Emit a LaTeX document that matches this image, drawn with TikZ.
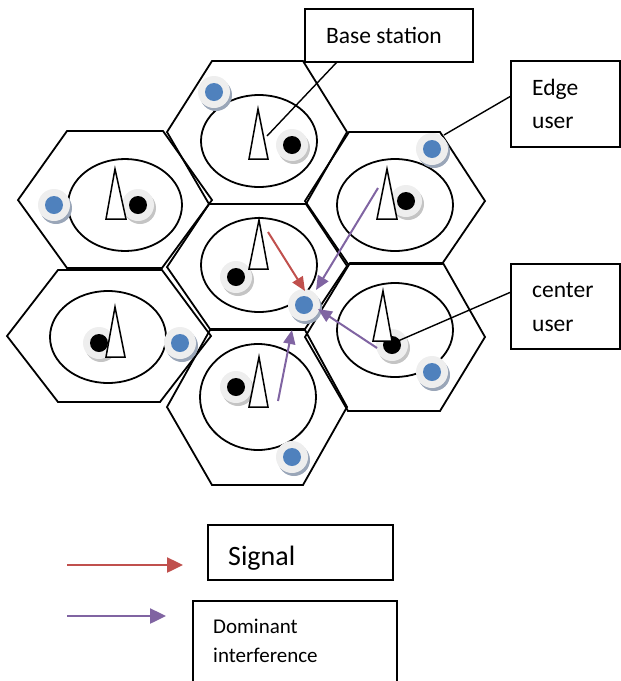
\documentclass[tikz,border=0pt]{standalone}
\usepackage{fontspec}
\setmainfont{Carlito}
\usetikzlibrary{arrows.meta,calc}
\definecolor{sigred}{HTML}{C0504D}
\definecolor{intpurple}{HTML}{8064A2}
\definecolor{userblue}{HTML}{4F81BD}
\definecolor{devbg}{HTML}{EEEEEE}
\definecolor{blueshadow}{HTML}{9AA6B8}
\definecolor{blackshadow}{HTML}{C4C4C4}
\newcommand\putdev[5]{%
  \fill[#5] (#2+2,#3+3) circle (16pt);
  \node[circle, fill=devbg, minimum size=32pt, inner sep=0pt] (#1) at (#2,#3) {};
  \fill[#4] (#1.center) circle (9pt);
}
\begin{document}
\begin{tikzpicture}[x=1pt,y=-1pt,
  hexline/.style={draw=black, line width=1.8pt, line join=miter},
  cellell/.style={draw=black, line width=1.8pt},
  tower/.style={draw=black, fill=white, line width=1.5pt},
  boxstyle/.style={draw=black, line width=1.6pt, fill=white, inner sep=0pt},
  leader/.style={draw=black, line width=1.4pt},
  sigarrow/.style={draw=sigred, line width=2pt, -{Triangle[length=14pt,width=12pt]}},
  intarrow/.style={draw=intpurple, line width=2pt, -{Triangle[length=14pt,width=12pt]}},
  legsig/.style={draw=sigred, line width=2.5pt, -{Triangle[length=16pt,width=15pt]}},
  legint/.style={draw=intpurple, line width=2.5pt, -{Triangle[length=16pt,width=15pt]}},
  lbl/.style={anchor=base west, inner sep=0pt, font=\fontsize{23.5}{28}\selectfont},
  biglbl/.style={anchor=base west, inner sep=0pt, font=\fontsize{28}{32}\selectfont},
  smalllbl/.style={anchor=base west, inner sep=0pt, font=\fontsize{21}{25}\selectfont},
]
\useasboundingbox (0,0) rectangle (621,681);
\clip (0,0) rectangle (621,681);

% hexagonal cells
\draw[hexline] (212,61)--(303,61)--(347,132)--(306,204)--(209,204)--(167,132)--cycle;
\draw[hexline] (67,131)--(163,131)--(212,200)--(162,268)--(67,268)--(18,200)--cycle;
\draw[hexline] (209,204)--(306,204)--(347,266)--(305,329)--(210,329)--(167,267)--cycle;
\draw[hexline] (349,132)--(440,132)--(485,201)--(442,264)--(348,264)--(305,201)--cycle;
\draw[hexline] (58,270)--(162,270)--(211,336)--(160,402)--(58,402)--(7,336)--cycle;
\draw[hexline] (350,263)--(443,263)--(485,337)--(440,411)--(348,411)--(305,337)--cycle;
\draw[hexline] (210,330)--(305,330)--(347,407)--(303,485)--(212,485)--(167,407)--cycle;

% inner (center) regions
\draw[cellell] (259,141) ellipse [x radius=58pt, y radius=46pt];
\draw[cellell] (125,205) ellipse [x radius=57pt, y radius=46pt];
\draw[cellell] (259,265) ellipse [x radius=58pt, y radius=47pt];
\draw[cellell] (395,205) ellipse [x radius=58pt, y radius=46pt];
\draw[cellell] (108,337) ellipse [x radius=58pt, y radius=46pt];
\draw[cellell] (395,330) ellipse [x radius=58pt, y radius=47pt];
\draw[cellell] (258,397) ellipse [x radius=58pt, y radius=53pt];

% users
\putdev{tb}{214}{92}{userblue}{blueshadow}
\putdev{tk}{292}{145}{black}{blackshadow}
\putdev{ulb}{54}{205}{userblue}{blueshadow}
\putdev{ulk}{138}{205}{black}{blackshadow}
\putdev{ck}{236}{277}{black}{blackshadow}
\putdev{cb}{304}{305}{userblue}{blueshadow}
\putdev{urb}{432}{149}{userblue}{blueshadow}
\putdev{urk}{406}{201}{black}{blackshadow}
\putdev{llk}{99}{343}{black}{blackshadow}
\putdev{llb}{180}{343}{userblue}{blueshadow}
\putdev{rk}{392}{345}{black}{blackshadow}
\putdev{rb}{432}{372}{userblue}{blueshadow}
\putdev{bk}{236}{387}{black}{blackshadow}
\putdev{bb}{292}{457}{userblue}{blueshadow}

% base stations
\draw[tower] (258,109)--(268,159)--(249,159)--cycle;
\draw[tower] (115,169)--(126,219)--(106,219)--cycle;
\draw[tower] (259,220)--(268,269)--(249,269)--cycle;
\draw[tower] (387,169)--(397,219)--(377,219)--cycle;
\draw[tower] (115,307)--(125,357)--(106,357)--cycle;
\draw[tower] (383,291)--(392,341)--(373,341)--cycle;
\draw[tower] (259,357)--(268,407)--(249,407)--cycle;

% signal and interference arrows
\coordinate (s0) at (268,232);
\coordinate (s1) at (305,291);
\coordinate (p10) at (378,188);
\coordinate (p11) at (316,290);
\coordinate (p20) at (377,348);
\coordinate (p21) at (318,309);
\coordinate (p30) at (278,401);
\coordinate (p31) at (292,330);
\draw[sigarrow] (s0) -- (s1);
\draw[intarrow] (p10) -- (p11);
\draw[intarrow] (p20) -- (p21);
\draw[intarrow] (p30) -- (p31);

% callout boxes
\node[boxstyle, minimum width=168pt, minimum height=53pt] (bsbox) at (389,35.5) {};
\node[boxstyle, minimum width=109pt, minimum height=86pt] (edgebox) at (565.5,104) {};
\node[boxstyle, minimum width=109pt, minimum height=85pt] (cenbox) at (565.5,306.5) {};
\node[lbl] (bstext) at (326,43) {Base station};
\node[lbl] (edgetext1) at (532,95) {Edge};
\node[lbl] (edgetext2) at (532,128) {user};
\node[lbl] (centext1) at (532,297) {center};
\node[lbl] (centext2) at (532,331) {user};

\coordinate (bsl) at (337,62);
\coordinate (bst) at (267,136);
\coordinate (edl) at (511,96);
\coordinate (edt) at (444,135);
\coordinate (cel) at (511,292);
\coordinate (cet) at (398,341);
\draw[leader] (bsl) -- (bst);
\draw[leader] (edl) -- (edt);
\draw[leader] (cel) -- (cet);

% legend
\coordinate (lr0) at (67,565);
\coordinate (lr1) at (183,565);
\coordinate (lp0) at (67,616);
\coordinate (lp1) at (166,616);
\draw[legsig] (lr0) -- (lr1);
\draw[legint] (lp0) -- (lp1);
\node[boxstyle, minimum width=185pt, minimum height=55pt] (sigbox) at (300.5,552.5) {};
\node[boxstyle, minimum width=204pt, minimum height=86pt] (dombox) at (295,644) {};
\node[biglbl] (sigtext) at (228,565) {Signal};
\node[smalllbl] (domtext1) at (213,633) {Dominant};
\node[smalllbl] (domtext2) at (213,662) {interference};
\end{tikzpicture}
\end{document}
